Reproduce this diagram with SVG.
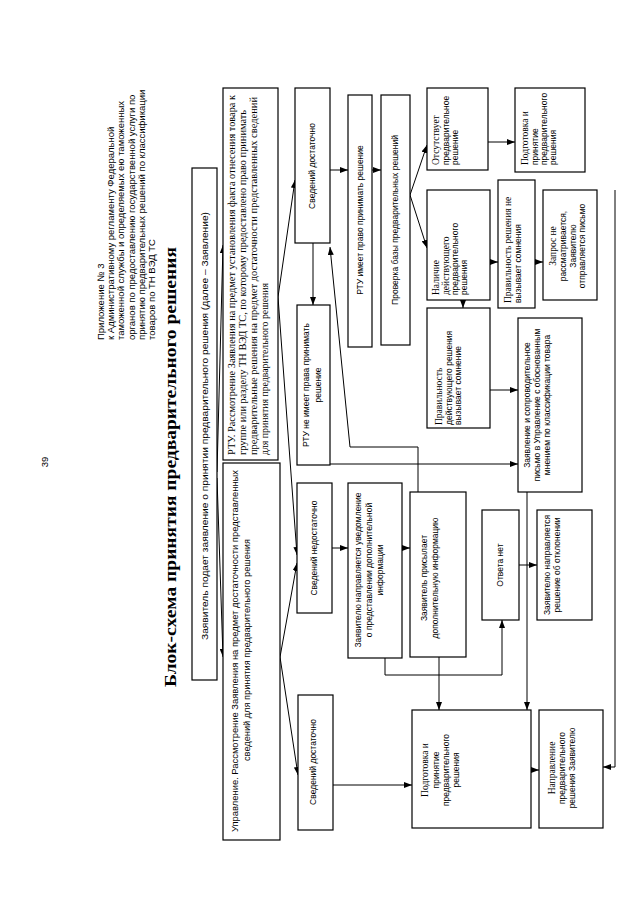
<svg xmlns="http://www.w3.org/2000/svg" width="640" height="900" viewBox="0 0 640 900">
<style>
.bg{fill:#fff}
.box{fill:#fff;stroke:#000;stroke-width:1.2}
.c{fill:none;stroke:#000;stroke-width:1}
.s{font-family:"Liberation Sans",Arial,sans-serif;font-size:8.5px;fill:#000}
.r{font-family:"Liberation Serif","Times New Roman",serif;font-size:9.5px;fill:#000}
.h{font-family:"Liberation Sans",Arial,sans-serif;font-size:9.5px;fill:#000}
.ttl{font-family:"Liberation Serif","Times New Roman",serif;font-size:17px;font-weight:bold;fill:#000}
.m{text-anchor:middle}
</style>
<defs>
<marker id="a" markerUnits="userSpaceOnUse" markerWidth="8" markerHeight="6" refX="8" refY="3" orient="auto">
<path d="M0,0 L8,3 L0,6 z" fill="#000"/>
</marker>
</defs>
<rect class="bg" x="0" y="0" width="640" height="900"/>

<g id="header">
<text class="h" transform="translate(48,462) rotate(-90)" text-anchor="middle">39</text>
<text class="h" transform="translate(104,340) rotate(-90)">Приложение № 3</text>
<text class="h" transform="translate(114,340) rotate(-90)">к Административному регламенту Федеральной</text>
<text class="h" transform="translate(124,340) rotate(-90)">таможенной службы и определяемых ею таможенных</text>
<text class="h" transform="translate(135,340) rotate(-90)">органов по предоставлению государственной услуги по</text>
<text class="h" transform="translate(145,340) rotate(-90)">принятию предварительных решений по классификации</text>
<text class="h" transform="translate(155,340) rotate(-90)">товаров по ТН ВЭД ТС</text>
<text class="ttl m" transform="translate(176,467) rotate(-90)" textLength="440" lengthAdjust="spacingAndGlyphs">Блок-схема принятия предварительного решения</text>
</g>

<g id="connectors">
<path class="c" d="M217,472 L223,245" marker-end="url(#a)"/>
<path class="c" d="M217,478 L223,657" marker-end="url(#a)"/>
<path class="c" d="M278,297 L295,180" marker-end="url(#a)"/>
<path class="c" d="M278,297 L297,555" marker-end="url(#a)"/>
<path class="c" d="M280,657 L297,563" marker-end="url(#a)"/>
<path class="c" d="M280,657 L298,775" marker-end="url(#a)"/>
<path class="c" d="M313,243 L313,305" marker-end="url(#a)"/>
<path class="c" d="M330,170 L348,170" marker-end="url(#a)"/>
<path class="c" d="M372,170 L381,170" marker-end="url(#a)"/>
<path class="c" d="M410,195 L427,145" marker-end="url(#a)"/>
<path class="c" d="M410,195 L427,248" marker-end="url(#a)"/>
<path class="c" d="M488,142 L515,142" marker-end="url(#a)"/>
<path class="c" d="M490,262 L498,262" marker-end="url(#a)"/>
<path class="c" d="M535,262 L543,262" marker-end="url(#a)"/>
<path class="c" d="M463,300 L463,308" marker-end="url(#a)"/>
<path class="c" d="M490,390 L518,390" marker-end="url(#a)"/>
<path class="c" d="M330,464 L518,464" marker-end="url(#a)"/>
<path class="c" d="M418,492 L418,447 L350,447 L330,247" marker-end="url(#a)"/>
<path class="c" d="M332,548 L348,548" marker-end="url(#a)"/>
<path class="c" d="M402,548 L410,548" marker-end="url(#a)"/>
<path class="c" d="M385,658 L385,675 L502,675 L502,620" marker-end="url(#a)"/>
<path class="c" d="M439,657 L439,710" marker-end="url(#a)"/>
<path class="c" d="M527,492 L527,710" marker-end="url(#a)"/>
<path class="c" d="M519,565 L537,565" marker-end="url(#a)"/>
<path class="c" d="M333,785 L412,785" marker-end="url(#a)"/>
<path class="c" d="M531,770 L539,770" marker-end="url(#a)"/>
<path class="c" d="M615,190 L615,767 L603,767" marker-end="url(#a)"/>
</g>

<g id="n1">
<rect class="box" x="192" y="168" width="25" height="512"/>
<text class="s m" transform="translate(208,426) rotate(-90)" textLength="428" lengthAdjust="spacingAndGlyphs">Заявитель подает заявление о принятии предварительного решения (далее – Заявление)</text>
</g>

<g id="n2">
<rect class="box" x="223" y="88" width="55" height="372"/>
<text class="r" transform="translate(235,455) rotate(-90)" textLength="360" lengthAdjust="spacingAndGlyphs">РТУ. Рассмотрение Заявления на предмет установления факта отнесения товара к</text>
<text class="r" transform="translate(246,455) rotate(-90)" textLength="345" lengthAdjust="spacingAndGlyphs">группе или разделу ТН ВЭД ТС, по которому предоставлено право принимать</text>
<text class="r" transform="translate(257,455) rotate(-90)" textLength="358" lengthAdjust="spacingAndGlyphs">предварительные решения на предмет достаточности представленных сведений</text>
<text class="r" transform="translate(268,455) rotate(-90)" textLength="172" lengthAdjust="spacingAndGlyphs">для принятия предварительного решения</text>
</g>

<g id="n3">
<rect class="box" x="223" y="463" width="57" height="377"/>
<text class="s" transform="translate(238,832) rotate(-90)" textLength="362" lengthAdjust="spacingAndGlyphs">Управление. Рассмотрение Заявления на предмет достаточности представленных</text>
<text class="s m" transform="translate(250,650) rotate(-90)" textLength="222" lengthAdjust="spacingAndGlyphs">сведений для принятия предварительного решения</text>
</g>

<g id="n4">
<rect class="box" x="295" y="88" width="35" height="155"/>
<text class="s m" transform="translate(315,166) rotate(-90)">Сведений достаточно</text>
</g>

<g id="n5">
<rect class="box" x="297" y="305" width="33" height="160"/>
<text class="s m" transform="translate(309,385) rotate(-90)">РТУ не имеет права принимать</text>
<text class="s m" transform="translate(321,385) rotate(-90)">решение</text>
</g>

<g id="n6">
<rect class="box" x="297" y="483" width="35" height="130"/>
<text class="s m" transform="translate(317,548) rotate(-90)">Сведений недостаточно</text>
</g>

<g id="n7">
<rect class="box" x="298" y="695" width="35" height="135"/>
<text class="s m" transform="translate(316,762) rotate(-90)">Сведений достаточно</text>
</g>

<g id="n8">
<rect class="box" x="348" y="95" width="24" height="252"/>
<text class="s m" transform="translate(363,220) rotate(-90)">РТУ имеет право принимать решение</text>
</g>

<g id="n9">
<rect class="box" x="381" y="95" width="29" height="250"/>
<text class="s m" transform="translate(398,220) rotate(-90)">Проверка базы предварительных решений</text>
</g>

<g id="n10">
<rect class="box" x="348" y="483" width="54" height="175"/>
<text class="s m" transform="translate(361,570) rotate(-90)">Заявителю направляется уведомление</text>
<text class="s m" transform="translate(372,570) rotate(-90)">о представлении дополнительной</text>
<text class="s m" transform="translate(383,570) rotate(-90)">информации</text>
</g>

<g id="n11">
<rect class="box" x="410" y="492" width="56" height="165"/>
<text class="s m" transform="translate(427,578) rotate(-90)">Заявитель присылает</text>
<text class="s m" transform="translate(438,578) rotate(-90)">дополнительную информацию</text>
</g>

<g id="n12">
<rect class="box" x="412" y="710" width="119" height="118"/>
<text class="r m" transform="translate(428,770) rotate(-90)">Подготовка и</text>
<text class="s m" transform="translate(439,770) rotate(-90)">принятие</text>
<text class="s m" transform="translate(449,770) rotate(-90)">предварительного</text>
<text class="s m" transform="translate(459,770) rotate(-90)">решения</text>
</g>

<g id="n13">
<rect class="box" x="427" y="88" width="61" height="82"/>
<text class="r" transform="translate(439,165) rotate(-90)">Отсутствует</text>
<text class="s" transform="translate(449,165) rotate(-90)">предварительное</text>
<text class="s" transform="translate(458,165) rotate(-90)">решение</text>
</g>

<g id="n14">
<rect class="box" x="427" y="190" width="63" height="110"/>
<text class="r" transform="translate(439,295) rotate(-90)">Наличие</text>
<text class="r" transform="translate(449,295) rotate(-90)">действующего</text>
<text class="s" transform="translate(458,295) rotate(-90)">предварительного</text>
<text class="s" transform="translate(467,295) rotate(-90)">решения</text>
</g>

<g id="n15">
<rect class="box" x="427" y="308" width="63" height="120"/>
<text class="r" transform="translate(442,425) rotate(-90)">Правильность</text>
<text class="s" transform="translate(452,425) rotate(-90)">действующего решения</text>
<text class="s" transform="translate(461,425) rotate(-90)">вызывает сомнение</text>
</g>

<g id="n16">
<rect class="box" x="515" y="88" width="70" height="84"/>
<text class="r" transform="translate(528,165) rotate(-90)">Подготовка и</text>
<text class="s" transform="translate(538,165) rotate(-90)">принятие</text>
<text class="s" transform="translate(547,165) rotate(-90)">предварительного</text>
<text class="s" transform="translate(556,165) rotate(-90)">решения</text>
</g>

<g id="n17">
<rect class="box" x="498" y="180" width="37" height="128"/>
<text class="r" transform="translate(511,303) rotate(-90)">Правильность решения не</text>
<text class="s" transform="translate(521,303) rotate(-90)">вызывает сомнения</text>
</g>

<g id="n18">
<rect class="box" x="543" y="190" width="54" height="110"/>
<text class="r m" transform="translate(556,246) rotate(-90)">Запрос не</text>
<text class="s m" transform="translate(566,246) rotate(-90)">рассматривается,</text>
<text class="s m" transform="translate(576,246) rotate(-90)">Заявителю</text>
<text class="s m" transform="translate(585,246) rotate(-90)">отправляется письмо</text>
</g>

<g id="n19">
<rect class="box" x="518" y="318" width="64" height="174"/>
<text class="s m" transform="translate(530,405) rotate(-90)">Заявление и сопроводительное</text>
<text class="s m" transform="translate(540,405) rotate(-90)">письмо в Управление с обоснованным</text>
<text class="s m" transform="translate(550,405) rotate(-90)">мнением по классификации товара</text>
</g>

<g id="n20">
<rect class="box" x="482" y="510" width="37" height="110"/>
<text class="s m" transform="translate(503,565) rotate(-90)">Ответа нет</text>
</g>

<g id="n21">
<rect class="box" x="537" y="510" width="55" height="110"/>
<text class="s m" transform="translate(550,565) rotate(-90)">Заявителю направляется</text>
<text class="s m" transform="translate(560,565) rotate(-90)">решение об отклонении</text>
</g>

<g id="n22">
<rect class="box" x="539" y="710" width="64" height="118"/>
<text class="r m" transform="translate(555,768) rotate(-90)">Направление</text>
<text class="s m" transform="translate(565,768) rotate(-90)">предварительного</text>
<text class="s m" transform="translate(575,768) rotate(-90)">решения Заявителю</text>
</g>
</svg>
